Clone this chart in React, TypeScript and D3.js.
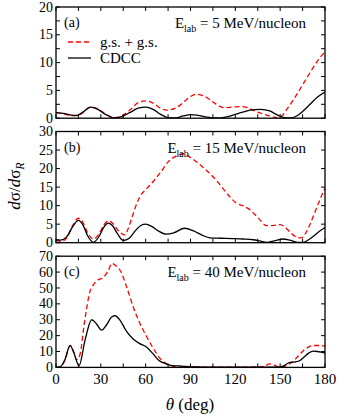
import * as d3 from "d3";

// angles (deg) and dσ/dσR values
const aCdccDeg = [0, 5, 10, 14, 18, 23, 28, 33, 39, 44, 50, 55, 60, 65, 70, 75, 80, 85, 90, 95, 100, 105, 110, 115, 120, 125, 130, 137, 143, 148, 153, 157, 161, 165, 170, 175, 180];
const aCdcc = [1.0, 0.85, 0.55, 0.5, 1.1, 2.0, 1.6, 0.7, 0.05, 0.3, 1.1, 1.8, 2.0, 1.6, 0.7, 0.1, 0.05, 0.4, 0.65, 0.5, 0.25, 0.05, 0.05, 0.3, 0.7, 1.1, 1.45, 1.6, 1.3, 0.6, 0.1, 0.05, 0.4, 1.2, 2.5, 3.8, 4.7];
const aGsDeg = [0, 5, 10, 14, 18, 23, 28, 33, 39, 44, 50, 55, 60, 65, 70, 74, 80, 85, 90, 94, 99, 105, 110, 113, 118, 124, 128, 133, 138, 143, 148, 151, 155, 160, 165, 170, 175, 180];
const aGs = [1.0, 0.8, 0.45, 0.45, 1.0, 2.0, 1.7, 0.8, 0.1, 0.4, 1.6, 2.8, 3.1, 2.7, 1.8, 1.45, 1.8, 2.8, 3.9, 4.3, 4.0, 2.9, 2.1, 1.9, 2.0, 2.1, 1.9, 1.3, 0.8, 0.4, 0.1, 0.4, 1.8, 3.8, 6.0, 8.2, 10.3, 12.0];

const bCdccDeg = [0, 3, 7, 11, 15, 18, 21, 25, 29, 32, 35, 38, 41, 45, 49, 53, 57, 60, 64, 68, 74, 79, 86, 92, 98, 103, 110, 118, 125, 132, 137, 141, 146, 152, 157, 162, 165, 169, 173, 177, 180];
const bCdcc = [0.8, 0.7, 1.5, 4.2, 6.0, 4.8, 2.0, 0.1, 1.8, 4.2, 5.3, 4.5, 2.5, 0.6, 1.2, 3.2, 4.7, 5.0, 4.4, 3.3, 2.3, 2.7, 3.9, 3.2, 2.0, 1.3, 1.2, 1.1, 1.0, 0.8, 0.4, 0.1, 0.5, 1.0, 0.6, 0.1, 0.05, 0.8, 2.0, 3.3, 4.1];
const bGsDeg = [0, 3, 7, 11, 15, 18, 21, 25, 29, 32, 35, 38, 41, 46, 48, 51, 54, 57, 60, 65, 70, 75, 80, 85, 90, 95, 100, 105, 110, 115, 121, 126, 130, 135, 141, 145, 150, 153, 157, 161, 164, 167, 170, 174, 177, 180];
const bGs = [0.8, 0.3, 1.2, 4.5, 6.6, 5.5, 2.8, 1.0, 2.5, 4.8, 5.9, 5.2, 3.6, 2.1, 3.5, 7.0, 10.5, 13.0, 14.3, 16.5, 19.0, 21.8, 23.3, 24.0, 23.0, 21.5, 19.8, 17.8, 15.5, 13.0, 10.6, 9.8, 8.8, 6.8, 4.6, 4.6, 4.9, 4.3, 2.7, 1.5, 1.3, 2.5, 5.0, 9.0, 12.0, 14.7];

const cCdccDeg = [0, 3, 6, 9.4, 12, 15.4, 19.4, 23.9, 27, 30.6, 34, 37, 39.5, 43, 47, 52, 56, 60.7, 65, 68.5, 72, 76, 82, 90, 100, 120, 140, 148, 152, 156, 160, 163, 166, 169, 172, 175, 178, 180];
const cCdcc = [0, 0.5, 5, 13.9, 9, 1.0, 17, 30, 27.5, 23.5, 27, 31.5, 32.5, 29.5, 23, 17.5, 15, 12.7, 8.5, 4.7, 2.8, 1.5, 0.9, 0.4, 0.2, 0.1, 0.1, 0.1, 0.8, 3.0, 3.5, 4.2, 6.5, 9.0, 10.3, 10.0, 9.4, 9.2];
const cGsDeg = [0, 3, 6, 9.4, 12, 13.8, 16, 19, 22.8, 25, 28, 31.6, 35, 37.4, 40, 43, 47.3, 51.7, 56.2, 60.7, 65.1, 69.6, 74, 80, 85, 95, 120, 135, 140, 143, 146, 149, 152, 156, 160, 163, 166, 169, 172, 176, 180];
const cGs = [0, 0.4, 4.5, 13.5, 9.5, 4.7, 8, 28, 48, 52, 55, 56.5, 61, 65.5, 64, 61, 50.5, 38, 27.6, 19.3, 12, 5.7, 2.2, 0.5, 0.2, 0.1, 0.1, 0.3, 1.0, 2.2, 1.5, 0.3, 0.5, 2.0, 5.0, 8.0, 11.0, 12.8, 13.8, 13.8, 13.3];

const panelLabels = ["(a)", "(b)", "(c)"];
const energies = ["5", "15", "40"];
const yMaxes = [20, 30, 70];
const yTickSteps = [2.5, 5, 10];
const yLabelSteps = [5, 5, 10];
const xTicks = d3.range(0, 181, 15);
const xLabels = [0, 30, 60, 90, 120, 150, 180];

const series = [
  { gs: [aGsDeg, aGs], cdcc: [aCdccDeg, aCdcc] },
  { gs: [bGsDeg, bGs], cdcc: [bCdccDeg, bCdcc] },
  { gs: [cGsDeg, cGs], cdcc: [cCdccDeg, cCdcc] },
];

const FONT = "Liberation Serif";
const W = 338;
const H = 415;
const left = 56;
const right = 325;
const tops = [7, 131.5, 256.2];
const ph = 111.2;
const tick = 4;

const x = d3.scaleLinear().domain([0, 180]).range([left, right]);
const pts = (arr: number[][]) => arr[0].map((a, k) => [a, arr[1][k]] as [number, number]);

function Panel({ i }: { i: number }) {
  const s = series[i];
  const top = tops[i];
  const bottom = top + ph;
  const y = d3.scaleLinear().domain([0, yMaxes[i]]).range([bottom, top]);
  const line = d3.line<[number, number]>().x((d) => x(d[0])).y((d) => y(d[1])).curve(d3.curveMonotoneX);
  const clipId = `clip${i}`;
  const yT = d3.range(0, yMaxes[i] + 0.001, yTickSteps[i]);
  const yL = d3.range(0, yMaxes[i] + 0.001, yLabelSteps[i]);

  return (
    <g>
      <clipPath id={clipId}>
        <rect x={left} y={top} width={right - left} height={ph} />
      </clipPath>
      <path d={line(pts(s.gs)) || ""} fill="none" stroke="#ff0000" strokeWidth={1.3} strokeDasharray="5,3" clipPath={`url(#${clipId})`} />
      <path d={line(pts(s.cdcc)) || ""} fill="none" stroke="#000" strokeWidth={1.3} clipPath={`url(#${clipId})`} />
      <rect x={left} y={top} width={right - left} height={ph} fill="none" stroke="#000" strokeWidth={1.3} />
      {xTicks.map((t) => (
        <g key={`x${t}`} stroke="#000">
          <line x1={x(t)} x2={x(t)} y1={bottom} y2={bottom - tick} />
          <line x1={x(t)} x2={x(t)} y1={top} y2={top + tick} />
        </g>
      ))}
      {yT.map((t) => (
        <g key={`y${t}`} stroke="#000">
          <line x1={left} x2={left + tick} y1={y(t)} y2={y(t)} />
          <line x1={right} x2={right - tick} y1={y(t)} y2={y(t)} />
        </g>
      ))}
      {yL.map((t) => (
        <text key={`l${t}`} x={left - 3} y={y(t)} dy="0.33em" textAnchor="end" fontFamily={FONT} fontSize={14}>
          {String(t)}
        </text>
      ))}
      <text x={64} y={top + 20} fontFamily={FONT} fontSize={14}>{panelLabels[i]}</text>
      <text x={306} y={top + 21} textAnchor="end" fontFamily={FONT} fontSize={15}>
        <tspan>E</tspan>
        <tspan fontSize={10} dy={4}>lab</tspan>
        <tspan dy={-4}>{` = ${energies[i]} MeV/nucleon`}</tspan>
      </text>
      {i === 0 && (
        <g>
          <line x1={68} x2={91} y1={42} y2={42} stroke="#ff0000" strokeWidth={1.3} strokeDasharray="5,3" />
          <text x={100} y={42} dy="0.35em" fontFamily={FONT} fontSize={15}>g.s. + g.s.</text>
          <line x1={68} x2={91} y1={58} y2={58} stroke="#000" strokeWidth={1.3} />
          <text x={100} y={58} dy="0.35em" fontFamily={FONT} fontSize={15}>CDCC</text>
        </g>
      )}
      {i === 2 &&
        xLabels.map((t) => (
          <text key={`xl${t}`} x={x(t)} y={bottom + 17} textAnchor="middle" fontFamily={FONT} fontSize={15}>
            {String(t)}
          </text>
        ))}
    </g>
  );
}

export default function App() {
  return (
    <svg width={W} height={H} style={{ position: "absolute", left: 0, top: 0, display: "block", background: "#fff" }}>
      <Panel i={0} />
      <Panel i={1} />
      <Panel i={2} />
      <text transform="translate(20,186) rotate(-90)" textAnchor="middle" fontFamily={FONT} fontSize={17}>
        <tspan fontStyle="italic">d</tspan>
        <tspan>σ/</tspan>
        <tspan fontStyle="italic">d</tspan>
        <tspan>σ</tspan>
        <tspan fontStyle="italic" fontSize={12} dy={4}>R</tspan>
      </text>
      <text x={190} y={410} textAnchor="middle" fontFamily={FONT} fontSize={17}>
        <tspan fontStyle="italic">θ</tspan>
        <tspan> (deg)</tspan>
      </text>
    </svg>
  );
}
